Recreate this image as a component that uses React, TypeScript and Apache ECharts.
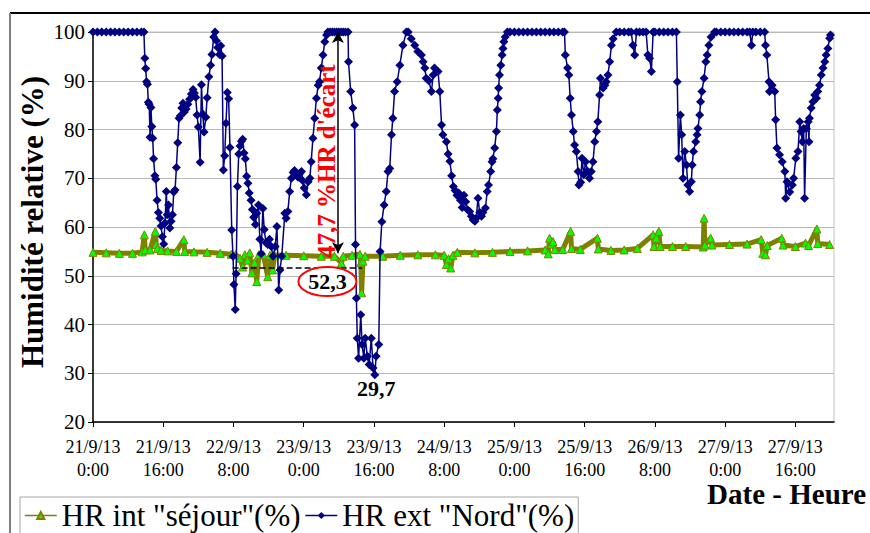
import React, { useEffect, useRef } from "react";
import * as echarts from "echarts";

// Hours elapsed since 21/9/13 0:00 and relative humidity (%)
const extDay1 = [
  [0, 100], [1, 100], [2, 100], [3, 100], [4, 100], [5, 100], [6, 100], [7, 100], [8, 100], [9, 100], [10, 100], [11, 100], [11.6, 100],
  [11.8, 94.6], [12.0, 92.5], [12.2, 89.8], [12.4, 89.3], [12.6, 85.6], [12.8, 85.2], [13.0, 78.4], [13.2, 84.5], [13.4, 80.6], [13.6, 78.2],
  [13.8, 74.0], [14.1, 70.5], [14.3, 69.8], [14.6, 65.5], [14.9, 63.0], [15.2, 61.8], [15.5, 60.2], [15.8, 58.0], [16.1, 56.5], [16.4, 60.8],
  [16.7, 67.3], [16.9, 62.5], [17.2, 64.5], [17.5, 59.8], [17.8, 61.2], [18.1, 62.5], [18.4, 67.2], [18.7, 67.6], [19.0, 72.2], [19.3, 77.3],
  [19.6, 82.3], [19.9, 82.8], [20.2, 84.4], [20.5, 85.4], [20.8, 83.6], [21.2, 84.2], [21.6, 85.2], [22.0, 86.2], [22.4, 87.3], [22.8, 88.2],
  [23.1, 87.5], [23.4, 86.6], [23.7, 83.0],
];
const extDay2 = [
  [24.0, 80.5], [24.4, 73.3], [24.7, 89.2], [25.0, 83.2], [25.3, 79.5], [25.7, 82.5], [26.0, 86.5], [26.4, 90.8], [26.8, 93.2], [27.1, 95.4],
  [27.5, 99.0], [27.8, 100], [28.1, 98.2], [28.4, 96.8], [28.8, 95.4], [29.1, 97.2], [29.4, 95.1], [29.7, 71.7], [30.0, 74.6], [30.3, 81.3],
  [30.6, 87.6], [30.9, 86.3], [31.2, 76.3], [31.6, 59.4], [31.9, 54.0], [32.1, 48.2], [32.4, 43.1], [32.6, 50.4], [32.9, 68.3], [33.2, 75.0],
  [33.5, 76.6], [33.8, 77.6], [34.1, 78.0], [34.4, 75.2], [34.7, 74.0], [35.0, 70.4], [35.3, 69.0], [35.6, 67.0], [36.0, 65.5], [36.3, 63.6],
  [36.6, 62.0], [37.0, 60.5], [37.3, 62.8], [37.7, 64.5], [38.0, 57.5], [38.3, 54.5], [38.7, 63.8], [39.0, 59.5], [39.4, 56.8], [39.8, 56.4],
  [40.2, 57.5], [40.6, 56.0], [41.0, 54.0], [41.5, 56.0], [41.9, 60.1], [42.3, 47.1], [42.6, 51.2], [43.0, 54.0], [43.7, 62.8], [44.0, 61.8],
  [44.4, 63.2], [44.8, 67.3], [45.2, 70.0], [45.6, 71.2], [45.9, 71.6], [46.3, 70.8], [46.7, 70.2], [47.1, 71.0], [47.5, 71.4], [47.8, 69.5],
];
const extDay3 = [
  [48.1, 68.0], [48.6, 66.6], [49.0, 69.3], [49.4, 70.0], [49.7, 73.4], [50.1, 78.2], [50.5, 82.3], [50.9, 86.4], [51.3, 89.1], [51.6, 89.8],
  [52.0, 92.6], [52.4, 95.3], [52.8, 98.0], [53.2, 99.4], [53.5, 100], [54, 100], [54.5, 100], [55, 100], [55.5, 100], [56, 100], [56.5, 100],
  [57, 100], [57.5, 100], [58.1, 100], [58.2, 93.9], [58.7, 87.8], [59.2, 84.4], [59.6, 80.9], [59.8, 56.4], [60.0, 45.4], [60.2, 37.2],
  [60.5, 33.1], [61.0, 42.0], [61.3, 35.9], [61.7, 33.1], [62.0, 37.2], [62.5, 33.5], [62.9, 31.8], [63.4, 37.2], [63.8, 31.1], [64.2, 29.7],
  [64.5, 33.5], [65.1, 35.9], [65.4, 55.0], [65.8, 61.1], [66.3, 64.5], [66.8, 67.3], [67.2, 71.4], [67.6, 72.0], [68.0, 78.9], [68.3, 82.3],
  [68.7, 87.8], [69.3, 89.8], [69.9, 93.2], [70.6, 97.3], [71.4, 100], [71.8, 100],
];
const extDay4 = [
  [72.5, 98.6], [73.3, 97.3], [74.0, 96.0], [74.8, 95.3], [75.2, 93.9], [75.6, 92.6], [75.9, 90.5], [76.5, 90.0], [77.1, 87.8], [77.5, 91.2],
  [77.8, 92.6], [78.6, 91.9], [79.0, 87.8], [79.4, 80.9], [79.7, 78.9], [80.5, 77.5], [80.9, 75.0], [81.3, 73.5], [81.7, 70.5], [82.1, 68.3],
  [82.5, 67.5], [82.9, 66.5], [83.3, 67.0], [83.7, 65.5], [84.1, 64.0], [84.5, 66.5], [84.9, 65.2], [85.4, 63.5], [85.8, 63.2], [86.2, 62.2],
  [86.6, 61.5], [87.0, 61.2], [87.3, 61.8], [87.7, 65.9], [88.1, 63.0], [88.5, 62.2], [88.8, 63.0], [89.4, 63.9], [89.8, 67.3], [90.1, 68.6],
  [90.6, 71.4], [90.9, 73.4], [91.1, 74.0], [91.5, 76.2], [91.9, 79.6], [92.1, 84.0], [92.3, 86.4], [92.4, 88.5], [92.6, 91.2], [92.9, 93.2],
  [93.2, 95.3], [93.4, 96.6], [93.6, 98.0], [93.9, 99.0], [94.4, 100], [95, 100],
];
const extDay5 = [
  [96, 100], [97, 100], [98, 100], [99, 100], [100, 100], [101, 100], [102, 100], [103, 100], [104, 100], [105, 100], [106, 100], [107, 100],
  [107.4, 100], [107.6, 95.3], [108.1, 92.6], [108.4, 91.2], [108.7, 86.4], [109.0, 83.0], [109.4, 79.6], [109.7, 76.8], [110.1, 75.5],
  [110.5, 71.4], [110.7, 68.6], [111.1, 69.2], [111.4, 74.1], [111.8, 70.7], [112.2, 73.4], [112.6, 71.5], [113.1, 70.0], [113.5, 71.4],
  [113.9, 73.4], [114.3, 77.5], [114.7, 79.6], [115.0, 81.6], [115.4, 87.1], [115.6, 90.5], [116.2, 88.5], [116.6, 89.1], [116.9, 89.8],
  [117.3, 91.2], [117.7, 93.9], [118.1, 97.3], [118.5, 98.6], [119.2, 100],
];
const extDay6 = [
  [120, 100], [121, 100], [122, 100], [122.6, 100], [123.0, 97.3], [123.4, 95.3], [123.8, 100], [124.5, 100], [125.3, 100], [126.0, 100],
  [126.4, 95.3], [126.8, 94.6], [127.2, 91.9], [127.6, 100], [128, 100], [129, 100], [130, 100], [131, 100], [132, 100], [132.9, 100],
  [133.1, 89.8], [133.4, 74.1], [133.8, 83.0], [134.1, 78.9], [134.4, 70.0], [134.8, 75.5], [135.2, 72.7], [135.5, 68.6], [135.9, 67.3],
  [136.3, 69.3], [136.5, 72.7], [136.8, 75.5], [137.3, 77.5], [137.6, 78.9], [137.8, 80.2], [138.2, 83.0], [138.4, 85.7], [138.7, 87.8],
  [139.2, 90.5], [139.6, 93.9], [139.9, 95.3], [140.3, 97.3], [140.8, 99.0], [141.6, 100], [142, 100], [143, 100],
];
const extDay7 = [
  [144, 100], [145, 100], [146, 100], [147, 100], [148, 100], [149, 100], [149.6, 100], [150.0, 97.3], [150.3, 100], [151, 100], [152, 100],
  [153, 100], [153.2, 97.3], [153.5, 95.3], [154.0, 89.8], [154.1, 87.8], [154.7, 89.1], [155.3, 87.8], [155.5, 82.0], [155.8, 76.2],
  [156.4, 74.8], [157.0, 73.4], [157.6, 71.4], [157.8, 65.9], [158.1, 69.3], [158.7, 67.2], [159.3, 68.6], [159.6, 70.0], [160.1, 74.1],
  [160.6, 75.5], [161.0, 81.6], [161.3, 79.6], [161.6, 77.5], [161.9, 80.2], [162.1, 65.9], [162.5, 80.2], [162.9, 81.6], [163.1, 77.5],
  [163.2, 82.3], [163.6, 84.4], [164.0, 85.7], [164.4, 87.1], [164.8, 86.4], [165.1, 87.8], [165.5, 89.1], [165.9, 91.2], [166.3, 92.6],
  [166.7, 93.9], [167.0, 95.3], [167.4, 96.6], [167.8, 98.7], [168.0, 99.4],
];

const intPart1 = [
  [0, 54.8], [3, 54.7], [6, 54.6], [9, 54.6], [11.2, 54.9], [11.7, 58.4], [11.9, 55.3], [13, 55.3], [14.2, 59.1], [14.4, 56.4], [14.7, 55.6],
  [15.5, 55.2], [17, 55.1], [19, 55.0], [20.7, 57.4], [20.9, 55.0], [23, 54.9], [26, 54.8], [29, 54.6], [31.5, 54.4], [32.5, 54.3],
  [33.5, 53.6], [34.1, 51.8], [34.6, 54.3], [35.2, 53.2], [35.7, 54.7], [36.2, 50.6], [36.8, 52.7], [37.3, 48.8], [37.8, 54.3], [38.8, 54.3],
  [39.8, 49.8], [40.3, 54.2], [40.9, 51.2], [41.4, 54.2], [44, 54.2], [48, 54.1], [52, 54.0], [55, 54.0],
];
const intPart2 = [
  [56.6, 52.6], [57, 54.0], [59, 54.2], [60.8, 54.4], [61.0, 52.7], [61.2, 46.5], [61.5, 53.0], [62, 54.0], [66, 54.0], [70, 54.2],
  [74, 54.3], [78, 54.3], [80, 54.2], [80.5, 52.3], [81.0, 53.5], [81.5, 51.6], [82.0, 54.2], [83, 54.8], [87, 54.7], [91, 54.8],
  [95, 55.0], [99, 55.1], [103, 55.3], [103.7, 54.5], [104, 57.7], [104.4, 56.5], [104.8, 57.0], [105.2, 55.4], [107, 55.4], [108.8, 59.1],
  [109.0, 55.6], [111, 55.4],
];
const intPart3 = [
  [114.9, 57.7], [115.1, 55.5], [118, 55.2], [121, 55.3], [124, 55.6], [127.6, 58.4], [127.8, 56.0], [128.3, 57.7], [128.9, 59.1],
  [129.2, 56.0], [132, 56.0], [135, 56.0], [139, 55.9], [139.2, 61.8], [139.4, 56.3], [140.7, 57.7], [141, 56.3], [145, 56.4], [149, 56.5],
  [152.2, 57.4], [152.6, 54.6], [153.2, 54.3], [153.6, 56.2], [156.9, 57.7], [157.2, 56.3], [160, 56.0], [162.3, 56.7], [163, 56.2],
  [164.9, 59.6], [165.1, 56.6], [167.8, 56.4],
];

const xTickHours = [0, 16, 32, 48, 64, 80, 96, 112, 128, 144, 160];
const seriesNames = ['HR int "séjour"(%)', 'HR ext "Nord"(%)'];
const gapLabel = "47,7 %HR d'écart";
const minIntLabel = "52,3";
const minExtLabel = "29,7";
const yTitle = "Humidité relative (%)";
const xTitle = "Date - Heure";

const FONT = "Liberation Serif";

function hourLabel(h: number): string {
  const day = 21 + Math.floor(h / 24);
  const hh = Math.round(h % 24);
  return `${day}/9/13\n${hh}:00`;
}

export default function App() {
  const ref = useRef<HTMLDivElement>(null);

  useEffect(() => {
    if (!ref.current) return;
    const chart = echarts.init(ref.current, null, { renderer: "svg" });
    const extData = [...extDay1, ...extDay2, ...extDay3, ...extDay4, ...extDay5, ...extDay6, ...extDay7];
    const intData = [...intPart1, ...intPart2, ...intPart3];

    chart.setOption({
      animation: false,
      backgroundColor: "#ffffff",
      textStyle: { fontFamily: FONT, color: "#000" },
      grid: {
        left: 93,
        top: 32,
        width: 741,
        height: 390,
        show: true,
        borderColor: "#c4c4c4",
        borderWidth: 1,
      },
      legend: {
        left: 20,
        top: 497,
        selectedMode: false,
        itemWidth: 32,
        itemHeight: 9,
        itemGap: 4,
        padding: [3, 4, 8, 4],
        borderColor: "#a6a6a6",
        borderWidth: 1,
        textStyle: { fontSize: 31, fontFamily: FONT, color: "#000" },
        lineStyle: { width: 1.5 },
        data: seriesNames,
      },
      xAxis: {
        type: "value",
        min: 0,
        max: 168.8,
        interval: 16,
        axisLine: { show: true, lineStyle: { color: "#000", width: 1.5 } },
        axisTick: { show: true, length: 5, lineStyle: { color: "#000" }, customValues: xTickHours },
        axisLabel: {
          customValues: xTickHours,
          fontSize: 18,
          lineHeight: 23,
          margin: 13,
          color: "#000",
          fontFamily: FONT,
          hideOverlap: false,
          formatter: (v: number) => (v % 16 === 0 ? hourLabel(v) : ""),
        },
        splitLine: { show: false },
      },
      yAxis: {
        type: "value",
        min: 20,
        max: 100,
        interval: 10,
        axisLine: { show: true, lineStyle: { color: "#000", width: 1.5 } },
        axisTick: { show: true, length: 5, lineStyle: { color: "#000" } },
        axisLabel: { fontSize: 21, color: "#000", margin: 8, fontFamily: FONT },
        splitLine: { show: true, lineStyle: { color: "#b8b8b8", width: 1 } },
      },
      series: [
        {
          name: seriesNames[0],
          type: "line",
          data: intData,
          z: 2,
          symbol: "triangle",
          symbolSize: 8,
          itemStyle: { color: "#00ff00", borderColor: "#808000", borderWidth: 1 },
          lineStyle: { color: "#808000", width: 5 },
          markLine: {
            silent: true,
            symbol: ["none", "none"],
            label: { show: false },
            data: [
              [
                { coord: [31.8, 51.7], lineStyle: { type: "dashed", color: "#000", width: 1.5 } },
                { coord: [61.3, 51.7] },
              ],
              [
                { coord: [55.8, 100], symbol: "arrow", symbolSize: [9, 11], lineStyle: { type: "solid", color: "#000", width: 1.5 } },
                { coord: [55.8, 54.6], symbol: "arrow", symbolSize: [9, 11] },
              ],
            ],
          },
        },
        {
          name: seriesNames[1],
          type: "line",
          data: extData,
          z: 3,
          symbol: "diamond",
          symbolSize: 9,
          itemStyle: { color: "#000080" },
          lineStyle: { color: "#000080", width: 1.5 },
        },
      ],
    });

    const p = (h: number, v: number) => chart.convertToPixel({ gridIndex: 0 }, [h, v]) as number[];
    const gapPos = p(53.2, 73.5);
    const ellPos = p(53.4, 48.8);
    const minPos = p(64.5, 26.8);

    chart.setOption({
      graphic: [
        { type: "line", shape: { x1: 10, y1: 13, x2: 870, y2: 13 }, style: { stroke: "#000", lineWidth: 2 }, silent: true },
        { type: "line", shape: { x1: 10, y1: 13, x2: 10, y2: 533 }, style: { stroke: "#808080", lineWidth: 2 }, silent: true },
        {
          type: "text",
          x: 32,
          y: 222,
          rotation: Math.PI / 2,
          style: { text: yTitle, fontSize: 31, fontWeight: "bold", fontFamily: FONT, fill: "#000", align: "center", verticalAlign: "middle" },
        },
        {
          type: "text",
          x: 866,
          y: 494,
          style: { text: xTitle, fontSize: 29, fontWeight: "bold", fontFamily: FONT, fill: "#000", align: "right", verticalAlign: "middle" },
        },
        {
          type: "text",
          x: gapPos[0],
          y: gapPos[1],
          rotation: Math.PI / 2,
          z: 100,
          style: { text: gapLabel, fontSize: 25, fontWeight: "bold", fontFamily: FONT, fill: "#ff0000", align: "center", verticalAlign: "middle" },
        },
        {
          type: "ellipse",
          z: 100,
          shape: { cx: ellPos[0], cy: ellPos[1], rx: 29, ry: 14.5 },
          style: { fill: "#ffffff", stroke: "#ff0000", lineWidth: 2 },
        },
        {
          type: "text",
          x: ellPos[0],
          y: ellPos[1],
          z: 101,
          style: { text: minIntLabel, fontSize: 22, fontWeight: "bold", fontFamily: FONT, fill: "#000", align: "center", verticalAlign: "middle" },
        },
        {
          type: "text",
          x: minPos[0],
          y: minPos[1],
          z: 100,
          style: { text: minExtLabel, fontSize: 22, fontWeight: "bold", fontFamily: FONT, fill: "#000", align: "center", verticalAlign: "middle" },
        },
      ],
    });

    return () => chart.dispose();
  }, []);

  return <div ref={ref} style={{ position: "fixed", left: 0, top: 0, width: 870, height: 533, background: "#fff" }} />;
}
